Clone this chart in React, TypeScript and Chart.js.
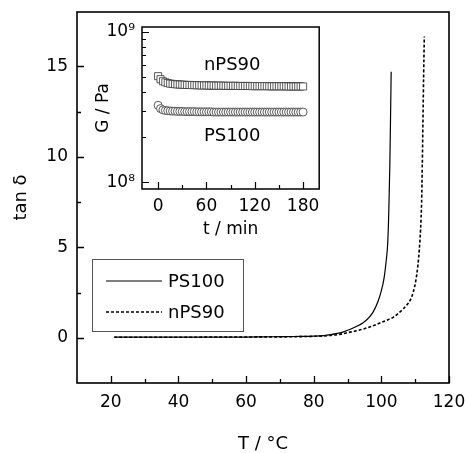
import React, { useEffect, useRef } from 'react';
import { Chart, registerables } from 'chart.js';

Chart.register(...registerables);

// ---------- Main chart data (tan δ vs T) ----------
const T_PS100 = [21, 25, 30, 35, 40, 45, 50, 55, 60, 65, 70, 75, 80, 83, 85, 87, 89, 91, 93, 94.5, 96, 97.5, 99, 100, 100.8, 101.4, 101.9, 102.2, 102.5, 102.7, 102.9];
const TAN_PS100 = [0.03, 0.03, 0.03, 0.03, 0.03, 0.03, 0.04, 0.04, 0.04, 0.05, 0.06, 0.07, 0.09, 0.12, 0.17, 0.24, 0.34, 0.48, 0.66, 0.82, 1.05, 1.4, 2.0, 2.6, 3.3, 4.2, 5.3, 7.0, 9.5, 12.0, 14.7];

const T_NPS90 = [21, 25, 30, 35, 40, 45, 50, 55, 60, 65, 70, 75, 80, 83, 85, 88, 90, 92.7, 95, 97.6, 100, 102, 103.5, 105, 106.5, 107.7, 108.5, 109.4, 110.2, 110.8, 111.2, 111.6, 111.9, 112.1, 112.3, 112.5, 112.7];
const TAN_NPS90 = [0.03, 0.03, 0.03, 0.03, 0.03, 0.03, 0.04, 0.04, 0.04, 0.05, 0.05, 0.06, 0.08, 0.1, 0.13, 0.2, 0.28, 0.39, 0.5, 0.67, 0.85, 1.0, 1.13, 1.35, 1.6, 1.85, 2.06, 2.5, 3.17, 4.0, 4.83, 6.0, 7.5, 9.5, 12.0, 14.5, 16.65];

const X_TICKS = [20, 40, 60, 80, 100, 120];
const X_MINOR = [30, 50, 70, 90, 110];
const Y_TICKS = [0, 5, 10, 15];
const Y_MINOR = [2.5, 7.5, 12.5];

// ---------- Inset data (G vs t) ----------
const INSET_T = [0, 3, 6, 9, 12, 15, 18, 21, 24, 27, 30, 33, 36, 39, 42, 45, 48, 51, 54, 57, 60, 63, 66, 69, 72, 75, 78, 81, 84, 87, 90, 93, 96, 99, 102, 105, 108, 111, 114, 117, 120, 123, 126, 129, 132, 135, 138, 141, 144, 147, 150, 153, 156, 159, 162, 165, 168, 171, 174, 177, 180];
const G_NPS90 = [5.08e8, 4.85e8, 4.70e8, 4.62e8, 4.57e8, 4.53e8, 4.51e8, 4.49e8, 4.48e8, 4.47e8, 4.46e8, 4.45e8, 4.44e8, 4.44e8, 4.43e8, 4.43e8, 4.42e8, 4.42e8, 4.41e8, 4.41e8, 4.41e8, 4.40e8, 4.40e8, 4.40e8, 4.39e8, 4.39e8, 4.39e8, 4.39e8, 4.38e8, 4.38e8, 4.38e8, 4.38e8, 4.38e8, 4.37e8, 4.37e8, 4.37e8, 4.37e8, 4.37e8, 4.37e8, 4.36e8, 4.36e8, 4.36e8, 4.36e8, 4.36e8, 4.36e8, 4.36e8, 4.35e8, 4.35e8, 4.35e8, 4.35e8, 4.35e8, 4.35e8, 4.35e8, 4.35e8, 4.34e8, 4.34e8, 4.34e8, 4.34e8, 4.34e8, 4.34e8, 4.34e8];
const G_PS100 = [3.25e8, 3.09e8, 3.03e8, 3.0e8, 2.99e8, 2.98e8, 2.97e8, 2.97e8, 2.96e8, 2.96e8, 2.96e8, 2.95e8, 2.95e8, 2.95e8, 2.95e8, 2.95e8, 2.94e8, 2.94e8, 2.94e8, 2.94e8, 2.94e8, 2.94e8, 2.94e8, 2.93e8, 2.93e8, 2.93e8, 2.93e8, 2.93e8, 2.93e8, 2.93e8, 2.93e8, 2.93e8, 2.93e8, 2.93e8, 2.93e8, 2.93e8, 2.93e8, 2.93e8, 2.93e8, 2.93e8, 2.93e8, 2.93e8, 2.93e8, 2.93e8, 2.93e8, 2.93e8, 2.93e8, 2.93e8, 2.93e8, 2.93e8, 2.93e8, 2.93e8, 2.93e8, 2.93e8, 2.93e8, 2.93e8, 2.93e8, 2.93e8, 2.93e8, 2.93e8, 2.93e8];

const INSET_X_TICKS = [0, 60, 120, 180];
const INSET_X_MINOR = [30, 90, 150];
const INSET_Y_TICKS = [1e8, 1e9];
const INSET_Y_MINOR = [2e8, 3e8, 4e8, 5e8, 6e8, 7e8, 8e8, 9e8];
const INSET_Y_LABELS: Record<string, string> = { '100000000': '10\u2078', '1000000000': '10\u2079' };

const FONT = "'DejaVu Sans', Verdana, sans-serif";

const zeroPad = (s: any) => {
  s.paddingLeft = 0;
  s.paddingRight = 0;
  s.paddingTop = 0;
  s.paddingBottom = 0;
};

// Frame + inward ticks plugin
const frameTicks = {
  id: 'frameTicks',
  afterDatasetsDraw(chart: any, _args: any, opts: any) {
    const { ctx, chartArea: a } = chart;
    const xs = chart.scales.x;
    const ys = chart.scales.y;
    ctx.save();
    ctx.strokeStyle = '#000';
    ctx.lineWidth = opts.tickWidth;
    ctx.beginPath();
    for (const v of opts.xMajor) { const p = Math.round(xs.getPixelForValue(v)) + 0.5; ctx.moveTo(p, a.bottom); ctx.lineTo(p, a.bottom - opts.majorLen); }
    for (const v of opts.xMinor) { const p = Math.round(xs.getPixelForValue(v)) + 0.5; ctx.moveTo(p, a.bottom); ctx.lineTo(p, a.bottom - opts.minorLen); }
    for (const v of opts.yMajor) { const p = Math.round(ys.getPixelForValue(v)) + 0.5; ctx.moveTo(a.left, p); ctx.lineTo(a.left + opts.majorLen, p); }
    for (const v of opts.yMinor) { const p = Math.round(ys.getPixelForValue(v)) + 0.5; ctx.moveTo(a.left, p); ctx.lineTo(a.left + opts.minorLen, p); }
    ctx.stroke();
    ctx.lineWidth = opts.lineWidth;
    ctx.strokeRect(a.left, a.top, a.right - a.left, a.bottom - a.top);
    ctx.restore();
  },
};

// Boxed legend inside main plot
const boxLegend = {
  id: 'boxLegend',
  afterDraw(chart: any, _args: any, opts: any) {
    if (!opts || !opts.box) return;
    const { ctx } = chart;
    const b = opts.box;
    ctx.save();
    ctx.fillStyle = '#fff';
    ctx.fillRect(b.x, b.y, b.w, b.h);
    ctx.strokeStyle = '#555';
    ctx.lineWidth = 1;
    ctx.strokeRect(b.x + 0.5, b.y + 0.5, b.w, b.h);
    chart.data.datasets.forEach((ds: any, i: number) => {
      const y = b.y + opts.rowStart + i * opts.rowGap;
      ctx.beginPath();
      ctx.strokeStyle = ds.borderColor;
      ctx.lineWidth = ds.borderWidth;
      ctx.setLineDash(ds.borderDash || []);
      ctx.moveTo(b.x + opts.lineStart, y);
      ctx.lineTo(b.x + opts.lineEnd, y);
      ctx.stroke();
      ctx.setLineDash([]);
      ctx.fillStyle = '#000';
      ctx.font = `18px ${FONT}`;
      ctx.textBaseline = 'middle';
      ctx.textAlign = 'left';
      ctx.fillText(ds.label, b.x + opts.textStart, y + 1);
    });
    ctx.restore();
  },
};

// Inset series labels
const insetLabels = {
  id: 'insetLabels',
  afterDatasetsDraw(chart: any, _args: any, opts: any) {
    const { ctx } = chart;
    const xs = chart.scales.x;
    const ys = chart.scales.y;
    ctx.save();
    ctx.fillStyle = '#000';
    ctx.font = `18px ${FONT}`;
    ctx.textAlign = 'center';
    ctx.textBaseline = 'middle';
    for (const l of opts.items) {
      ctx.fillText(l.text, xs.getPixelForValue(l.x), ys.getPixelForValue(l.y));
    }
    ctx.restore();
  },
};

export default function App() {
  const mainRef = useRef<HTMLCanvasElement>(null);
  const insetRef = useRef<HTMLCanvasElement>(null);

  useEffect(() => {
    Chart.defaults.font.family = FONT;
    Chart.defaults.color = '#000';

    const main = new Chart(mainRef.current!, {
      type: 'line',
      data: {
        datasets: [
          {
            label: 'PS100',
            data: T_PS100.map((x, i) => ({ x, y: TAN_PS100[i] })),
            borderColor: '#000',
            borderWidth: 1.2,
            pointRadius: 0,
            cubicInterpolationMode: 'monotone',
            fill: false,
          },
          {
            label: 'nPS90',
            data: T_NPS90.map((x, i) => ({ x, y: TAN_NPS90[i] })),
            borderColor: '#000',
            borderWidth: 1.6,
            borderDash: [3, 2],
            pointRadius: 0,
            cubicInterpolationMode: 'monotone',
            fill: false,
          },
        ],
      },
      options: {
        responsive: false,
        animation: false,
        events: [],
        layout: { padding: { left: 0, top: 12, right: 16, bottom: 0 } },
        plugins: {
          legend: { display: false },
          tooltip: { enabled: false },
          frameTicks: { xMajor: X_TICKS, xMinor: X_MINOR, yMajor: Y_TICKS, yMinor: Y_MINOR, majorLen: 7, minorLen: 4, lineWidth: 1.6, tickWidth: 1.3 },
          boxLegend: { box: { x: 92, y: 259, w: 151, h: 72 }, rowStart: 22, rowGap: 31, lineStart: 14, lineEnd: 70, textStart: 76 },
        } as any,
        scales: {
          x: {
            type: 'linear',
            min: 10,
            max: 120,
            afterBuildTicks: (s: any) => { s.ticks = X_TICKS.map((v) => ({ value: v })); },
            afterFit: (s: any) => { s.height = 70; zeroPad(s); },
            grid: { display: false, drawTicks: false },
            border: { display: false },
            ticks: { color: '#000', font: { size: 17 }, padding: 9, maxRotation: 0, autoSkip: false, callback: (v: any) => String(v) },
            title: { display: true, text: 'T / \u00B0C', color: '#000', font: { size: 18 }, padding: { top: 0, bottom: -2 } },
          },
          y: {
            type: 'linear',
            min: -2.5,
            max: 18,
            afterBuildTicks: (s: any) => { s.ticks = Y_TICKS.map((v) => ({ value: v })); },
            afterFit: (s: any) => { s.width = 77; zeroPad(s); },
            grid: { display: false, drawTicks: false },
            border: { display: false },
            ticks: { color: '#000', font: { size: 17 }, padding: 9, autoSkip: false, callback: (v: any) => String(v) },
            title: { display: true, text: 'tan \u03B4', color: '#000', font: { size: 18 }, padding: { top: 10.5, bottom: 0 } },
          },
        },
      },
      plugins: [frameTicks, boxLegend],
    } as any);

    const inset = new Chart(insetRef.current!, {
      type: 'line',
      data: {
        datasets: [
          {
            label: 'nPS90',
            data: INSET_T.map((x, i) => ({ x, y: G_NPS90[i] })),
            showLine: false,
            pointStyle: 'rect',
            pointRadius: 5,
            pointBackgroundColor: '#fff',
            pointBorderColor: '#333',
            pointBorderWidth: 0.8,
            borderColor: '#333',
          },
          {
            label: 'PS100',
            data: INSET_T.map((x, i) => ({ x, y: G_PS100[i] })),
            showLine: false,
            pointStyle: 'circle',
            pointRadius: 4,
            pointBackgroundColor: '#fff',
            pointBorderColor: '#333',
            pointBorderWidth: 0.8,
            borderColor: '#333',
          },
        ],
      },
      options: {
        responsive: false,
        animation: false,
        events: [],
        layout: { padding: { left: 0, top: 9, right: 4, bottom: 0 } },
        plugins: {
          legend: { display: false },
          tooltip: { enabled: false },
          frameTicks: { xMajor: INSET_X_TICKS, xMinor: INSET_X_MINOR, yMajor: INSET_Y_TICKS, yMinor: INSET_Y_MINOR, majorLen: 7, minorLen: 4, lineWidth: 1.5, tickWidth: 1.2 },
          insetLabels: { items: [{ text: 'nPS90', x: 92, y: 5.97e8 }, { text: 'PS100', x: 92, y: 2.03e8 }] },
        } as any,
        scales: {
          x: {
            type: 'linear',
            min: -20,
            max: 200,
            afterBuildTicks: (s: any) => { s.ticks = INSET_X_TICKS.map((v) => ({ value: v })); },
            afterFit: (s: any) => { s.height = 54; zeroPad(s); },
            grid: { display: false, drawTicks: false },
            border: { display: false },
            ticks: { color: '#000', font: { size: 17 }, padding: 7, maxRotation: 0, autoSkip: false, callback: (v: any) => String(v) },
            title: { display: true, text: 't / min', color: '#000', font: { size: 17 }, padding: { top: 0, bottom: 3 } },
          },
          y: {
            type: 'logarithmic',
            min: 9e7,
            max: 1.08e9,
            afterBuildTicks: (s: any) => { s.ticks = INSET_Y_TICKS.map((v) => ({ value: v })); },
            afterFit: (s: any) => { s.width = 57; zeroPad(s); },
            grid: { display: false, drawTicks: false },
            border: { display: false },
            ticks: { color: '#000', font: { size: 17 }, padding: 7, autoSkip: false, callback: (v: any) => INSET_Y_LABELS[String(v)] ?? '' },
            title: { display: true, text: 'G / Pa', color: '#000', font: { size: 17 }, padding: { top: 8.8, bottom: 0 } },
          },
        },
      },
      plugins: [frameTicks, insetLabels],
    } as any);

    return () => {
      main.destroy();
      inset.destroy();
    };
  }, []);

  return (
    <div style={{ position: 'fixed', left: 0, top: 0, width: 465, height: 453, background: '#fff' }}>
      <canvas ref={mainRef} width={465} height={453} style={{ position: 'absolute', left: 0, top: 0, width: 465, height: 453 }} />
      <canvas ref={insetRef} width={240} height={225} style={{ position: 'absolute', left: 85, top: 18, width: 240, height: 225 }} />
    </div>
  );
}
